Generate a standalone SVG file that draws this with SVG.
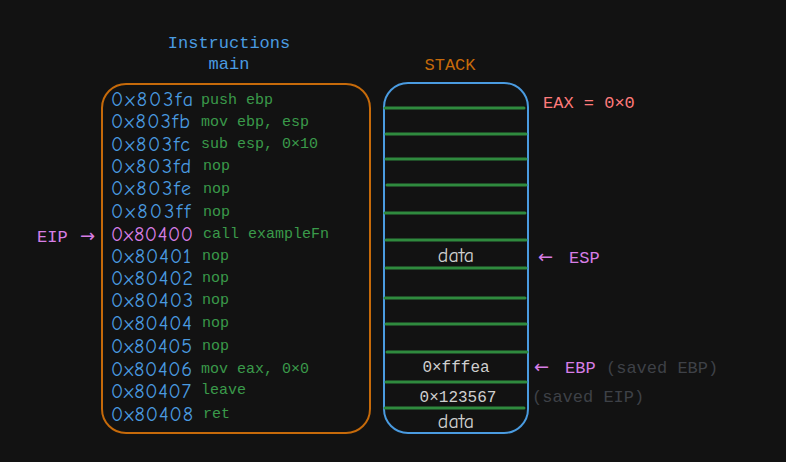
<svg xmlns="http://www.w3.org/2000/svg" width="786" height="462" viewBox="0 0 786 462">
<style>
.mono{font-family:"Liberation Mono","DejaVu Sans Mono",monospace;}
.arr{font-family:"DejaVu Sans","Liberation Sans",sans-serif;font-size:18px;}
.hand{font-family:"Comic Neue","Liberation Sans","DejaVu Sans",sans-serif;}
.addr{fill:#4a9be0;font-size:20px;}
.code{fill:#3a9a4a;font-size:15px;}
.row{stroke:#2f8a3e;stroke-width:3;stroke-linecap:round;}
.pink{fill:#d77ee6;}
.gray{fill:#3e4147;}
.val{fill:#cfcfcf;}
</style>
<rect width="786" height="462" fill="#121212"/>
<g id="title-instructions">
<text class="mono" x="229" y="48" font-size="17" fill="#4a9be0" text-anchor="middle">Instructions</text>
<text class="mono" x="229" y="69" font-size="17" fill="#4a9be0" text-anchor="middle">main</text>
</g>
<g id="title-stack">
<text class="mono" x="450" y="70" font-size="17" fill="#c66a0a" text-anchor="middle">STACK</text>
</g>
<g id="main-box">
<rect x="102" y="84" width="268" height="349" rx="24" fill="none" stroke="#c66a0a" stroke-width="2"/>
</g>
<g id="instructions">
<g class="hand addr">
<text x="111" y="106" textLength="82">0x803fa</text>
<text x="111" y="128" textLength="79">0x803fb</text>
<text x="111" y="151" textLength="79">0x803fc</text>
<text x="111" y="173" textLength="80">0x803fd</text>
<text x="111" y="195" textLength="80">0x803fe</text>
<text x="111" y="218" textLength="79">0x803ff</text>
<text x="111" y="241" textLength="82" fill="#d77ee6">0x80400</text>
<text x="111" y="263" textLength="80">0x80401</text>
<text x="111" y="285" textLength="82">0x80402</text>
<text x="111" y="307" textLength="82">0x80403</text>
<text x="111" y="330" textLength="81">0x80404</text>
<text x="111" y="353" textLength="81">0x80405</text>
<text x="111" y="376" textLength="81">0x80406</text>
<text x="111" y="398" textLength="80">0x80407</text>
<text x="111" y="421" textLength="82">0x80408</text>
</g>
<g class="mono code">
<text x="201" y="104">push ebp</text>
<text x="201" y="126">mov ebp, esp</text>
<text x="201" y="148">sub esp, 0×10</text>
<text x="203" y="170">nop</text>
<text x="203" y="193">nop</text>
<text x="203" y="216">nop</text>
<text x="203" y="238">call exampleFn</text>
<text x="202" y="260">nop</text>
<text x="202" y="282">nop</text>
<text x="202" y="304">nop</text>
<text x="202" y="327">nop</text>
<text x="202" y="350">nop</text>
<text x="201" y="373">mov eax, 0×0</text>
<text x="201" y="394">leave</text>
<text x="203" y="418">ret</text>
</g>
</g>
<g id="eip-label">
<text class="mono pink" x="37" y="242" font-size="17">EIP</text>
<text class="arr pink" x="80" y="242">→</text>
</g>
<g id="stack-box">
<rect x="384" y="83" width="144" height="350" rx="24" fill="none" stroke="#4a9be0" stroke-width="2"/>
</g>
<g id="stack-rows">
<line class="row" x1="385" y1="108" x2="524" y2="108"/>
<line class="row" x1="386" y1="134" x2="526" y2="134"/>
<line class="row" x1="386" y1="159" x2="526" y2="159"/>
<line class="row" x1="387" y1="185" x2="526" y2="185"/>
<line class="row" x1="385" y1="213" x2="525" y2="213"/>
<line class="row" x1="386" y1="240" x2="526" y2="240"/>
<line class="row" x1="386" y1="268" x2="526" y2="268"/>
<line class="row" x1="385" y1="298" x2="525" y2="298"/>
<line class="row" x1="386" y1="324" x2="526" y2="324"/>
<line class="row" x1="387" y1="352" x2="527" y2="352"/>
<line class="row" x1="386" y1="382" x2="526" y2="382"/>
<line class="row" x1="385" y1="408" x2="524" y2="408"/>
</g>
<g id="stack-values">
<text class="hand val" x="456" y="262" font-size="20" text-anchor="middle">data</text>
<text class="mono val" x="456" y="372" font-size="16" text-anchor="middle">0×fffea</text>
<text class="mono val" x="458" y="402" font-size="16" text-anchor="middle">0×123567</text>
<text class="hand val" x="456" y="428" font-size="20" text-anchor="middle">data</text>
</g>
<g id="eax-label">
<text class="mono" x="543" y="108" font-size="17" fill="#ff7b7b">EAX = 0×0</text>
</g>
<g id="esp-label">
<text class="arr pink" x="538" y="263">←</text>
<text class="mono pink" x="569" y="263" font-size="17">ESP</text>
</g>
<g id="ebp-label">
<text class="arr pink" x="534" y="373">←</text>
<text class="mono pink" x="565" y="373" font-size="17">EBP</text>
<text class="mono gray" x="606" y="373" font-size="17">(saved EBP)</text>
</g>
<g id="eip-saved-label">
<text class="mono gray" x="532" y="402" font-size="17">(saved EIP)</text>
</g>
</svg>
